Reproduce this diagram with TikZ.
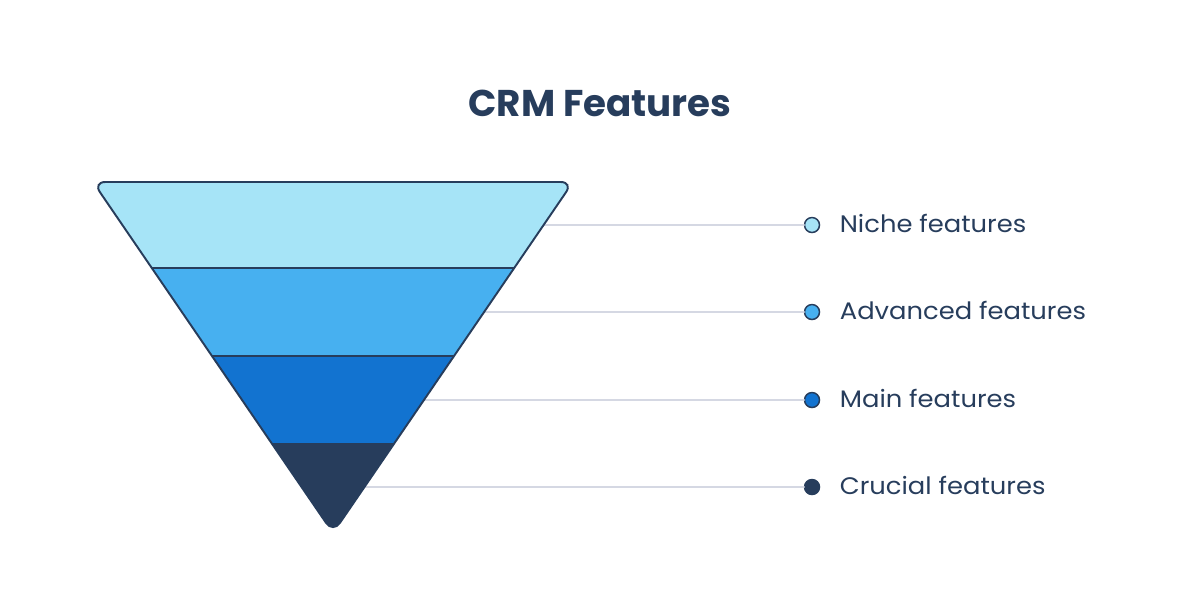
\documentclass[tikz,border=0pt]{standalone}
\usepackage{fontspec}
\setmainfont{Poppins}
\newfontfamily\widefont[FakeStretch=1.08]{Poppins}
\usetikzlibrary{positioning, calc}
\definecolor{navy}{RGB}{39,61,92}
\definecolor{paleblue}{RGB}{166,228,247}
\definecolor{skyblue}{RGB}{71,176,240}
\definecolor{midblue}{RGB}{18,115,208}
\definecolor{guide}{RGB}{213,216,227}

\begin{document}
\begin{tikzpicture}[x=0.02cm, y=-0.02cm,
    bullet/.style={circle, draw=navy, line width=0.85pt, minimum size=0.3cm, inner sep=0pt, outer sep=0pt},
    featuretext/.style={inner sep=0pt, anchor=west, text=navy, font=\widefont\fontsize{13.6}{16}\selectfont},
    guideline/.style={guide, line width=1pt}]
  \useasboundingbox (0,0) rectangle (1200,600);
  \node[text=navy, font=\bfseries\fontsize{21.2}{26}\selectfont] (title) at (600,103) {CRM Features};
  % Funnel corners
  \coordinate (tl) at (93,182);
  \coordinate (tr) at (573,182);
  \coordinate (tip) at (333,533);
  % Bullets, labels and guides
  \foreach \name/\col/\y/\txt in {niche/paleblue/225/Niche features, advanced/skyblue/312/Advanced features, main/midblue/400/Main features, crucial/navy/487/Crucial features} {
    \node[bullet, fill=\col] (\name) at (812,\y) {};
    \node[featuretext, right=0.4cm of \name, yshift=1pt] (\name-txt) {\txt};
    \draw[guideline] ($(tr)!{(\y-182)/351}!(tip)$) -- (\name);
  }
  % Funnel bands
  \begin{scope}
    \clip[rounded corners=7pt] (tl) -- (tr) -- (tip) -- cycle;
    \foreach \col/\ya/\yb in {paleblue/182/268, skyblue/268/356, midblue/356/444, navy/444/533} {
      \fill[\col] (80,\ya) rectangle (590,\yb);
    }
  \end{scope}
  \foreach \f in {0.245, 0.496, 0.746} {
    \draw[navy, line width=1.1pt] ($(tl)!\f!(tip)$) -- ($(tr)!\f!(tip)$);
  }
  \draw[navy, line width=1.1pt, rounded corners=7pt] (tl) -- (tr) -- (tip) -- cycle;
\end{tikzpicture}
\end{document}
